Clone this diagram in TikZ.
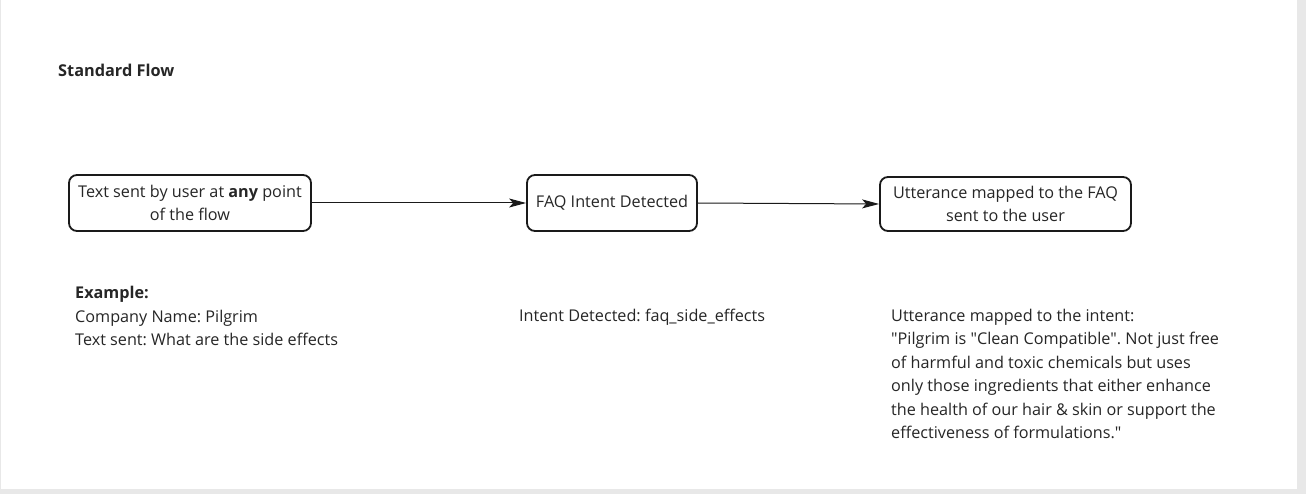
\documentclass[tikz,border=0pt]{standalone}
\usepackage{fontspec}
\setmainfont{Open Sans}[Ligatures=TeXOff]
\usetikzlibrary{arrows.meta}
\definecolor{txt}{HTML}{262626}
\definecolor{edge}{HTML}{1A1A1A}
\newcommand\dq{\symbol{34}}
\frenchspacing
\begin{document}
\begin{tikzpicture}[x=1pt,y=-1pt,
  box/.style={draw=edge, line width=1.8pt, rounded corners=8pt, align=center,
    inner sep=0pt, text=txt, font=\fontsize{16.2}{23}\selectfont},
  para/.style={anchor=base west, align=left, inner sep=0pt, text=txt,
    font=\fontsize{16.2}{23.4}\selectfont},
  conn/.style={draw=edge, line width=1pt, -{Stealth[length=17pt,width=9pt,inset=4pt]}}]
\useasboundingbox (0,0) rectangle (1306,494);
\fill[black!9] (0,0) rectangle (1306,494);
\fill[white] (1,0) rectangle (1297,489);
\node[anchor=base west, inner sep=0pt, text=txt, font=\fontsize{16.3}{18}\selectfont\bfseries] (title) at (58,77) {Standard Flow};
\node[box, minimum width=242pt, minimum height=56pt] (b1) at (190,203) {Text sent by user at \textbf{any} point\\of the flow};
\node[box, minimum width=170pt, minimum height=56pt] (b2) at (612,203) {FAQ Intent Detected};
\node[box, minimum width=251pt, minimum height=54pt] (b3) at (1005.5,204) {Utterance mapped to the FAQ\\sent to the user};
\draw[conn] (b1.east) -- (b2.west);
\draw[conn] (b2.east) -- (b3.west);
\node[para] (ex) at (75,345.5) {\textbf{Example:}\\Company Name: Pilgrim\\Text sent: What are the side effects};
\node[para] (intent) at (519,321.5) {Intent Detected: faq\_side\_effects};
\node[para] (utt) at (891,438.5) {Utterance mapped to the intent:\\\dq Pilgrim is \dq Clean Compatible\dq . Not just free\\of harmful and toxic chemicals but uses\\only those ingredients that either enhance\\the health of our hair \& skin or support the\\effectiveness of formulations.\dq};
\end{tikzpicture}
\end{document}
